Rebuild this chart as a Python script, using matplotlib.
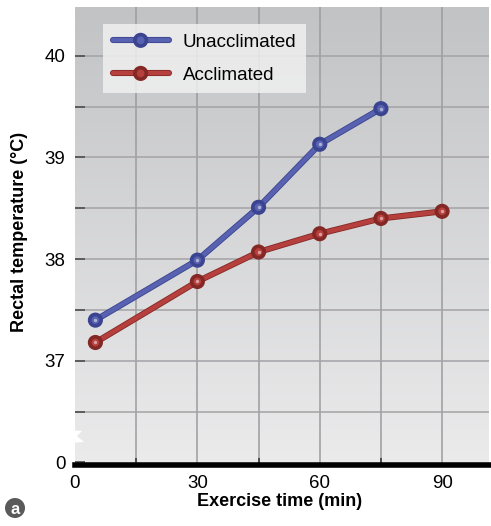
import numpy as np
import matplotlib
matplotlib.use("Agg")
import matplotlib.pyplot as plt
import matplotlib.patheffects as pe
from matplotlib.patches import Circle, Polygon
from matplotlib.transforms import Affine2D

plt.rcParams["font.family"] = ["Liberation Sans", "DejaVu Sans"]

# rectal temperature during exercise in the heat
time_unacclimated = [5, 30, 45, 60, 75]
temp_unacclimated = [37.40, 37.99, 38.51, 39.13, 39.48]
time_acclimated = [5, 30, 45, 60, 75, 90]
temp_acclimated = [37.18, 37.78, 38.07, 38.25, 38.40, 38.47]

x_tick_values = [0, 30, 60, 90]
y_tick_values = [36, 37, 38, 39, 40]
y_tick_labels = ["0", "37", "38", "39", "40"]

BLUE = "#5862b0"
BLUE_DARK = "#3a4490"
RED = "#b5403d"
RED_DARK = "#842825"

W, H = 491, 526
fig = plt.figure(figsize=(W / 100, H / 100), dpi=100)
ax = fig.add_axes([75 / W, 1 - 465 / H, 414 / W, 458 / H])
# pixel coordinates measured from the top-left corner
px = Affine2D().scale(1 / W, -1 / H).translate(0, 1) + fig.transFigure

xmin, xmax = 0, 101.5
ymin, ymax = 35.975, 40.48
ax.set_xlim(xmin, xmax)
ax.set_ylim(ymin, ymax)

# gray gradient panel, darker at the top
grad = np.linspace(0, 1, 256).reshape(-1, 1)
ax.imshow(grad, extent=[xmin, xmax, ymin, ymax], aspect="auto",
          cmap=matplotlib.colors.LinearSegmentedColormap.from_list(
              "panel", ["#c2c3c5", "#ebebec"]),
          origin="upper", zorder=0)

for gx in range(15, 100, 15):
    ax.axvline(gx, color="#9c9c9e", lw=1.1, zorder=1)
for gy in np.arange(36.5, 40.01, 0.5):
    ax.axhline(gy, color="#a3a3a5", lw=1.1, zorder=1)


def draw_series(x, y, color, dark, label):
    ax.plot(x, y, color=color, lw=3.2, solid_capstyle="round", zorder=3,
            marker="o", ms=6.5, mfc=color, mec=dark, mew=0.9, label=label,
            path_effects=[pe.Stroke(linewidth=4.4, foreground=dark),
                          pe.Normal()])
    ax.plot(x, y, ls="none", marker="o", ms=2.5, mfc="white", mec="none",
            alpha=0.5, zorder=4)


draw_series(time_unacclimated, temp_unacclimated, BLUE, BLUE_DARK,
            "Unacclimated")
draw_series(time_acclimated, temp_acclimated, RED, RED_DARK, "Acclimated")

for side in ("left", "right", "top"):
    ax.spines[side].set_visible(False)
ax.spines["bottom"].set_linewidth(4.0)
ax.spines["bottom"].set_color("black")
ax.spines["bottom"].set_zorder(5)

ax.set_xticks(x_tick_values)
ax.set_xticks(range(15, 100, 15), minor=True)
ax.set_yticks(y_tick_values)
ax.set_yticklabels(y_tick_labels)
ax.set_yticks(np.arange(36.5, 40.01, 1.0), minor=True)
ax.tick_params(axis="y", which="both", direction="in", length=7, width=1.3,
               color="#555555", labelsize=13.5, pad=7)
ax.tick_params(axis="x", which="both", direction="in", length=5, width=1.3,
               color="#444444", labelsize=13.5, pad=7)
ax.tick_params(axis="x", which="major", length=0)

leg = ax.legend(loc="upper left", bbox_to_anchor=(0.068, 0.962),
                fontsize=13.5, frameon=True, fancybox=False,
                handlelength=3.0, handletextpad=0.75, labelspacing=0.85,
                borderpad=0.5, borderaxespad=0)
leg.get_frame().set_facecolor("#f0f0f0")
leg.get_frame().set_alpha(0.85)
leg.get_frame().set_edgecolor("none")

fig.text(280 / W, 1 - 501 / H, "Exercise time (min)", ha="center",
         va="center", fontsize=13, fontweight="bold")
fig.text(20 / W, 1 - 232 / H, "Rectal temperature (\u00b0C)",
         ha="center", va="center", rotation=90, fontsize=13,
         fontweight="bold")

# axis break notch on the left edge
fig.patches.append(Polygon([(68, 430), (82, 431), (77, 436), (84, 442),
                            (68, 443)], closed=True, facecolor="white",
                           edgecolor="none", transform=px, zorder=6))

# panel letter
fig.patches.append(Circle((15, 508), 10, transform=px, facecolor="#5a5a5a",
                          edgecolor="none"))
fig.text(15 / W, 1 - 509 / H, "a", ha="center", va="center",
         color="white", fontsize=12, fontweight="bold")

fig.savefig("out.png", dpi=100)
